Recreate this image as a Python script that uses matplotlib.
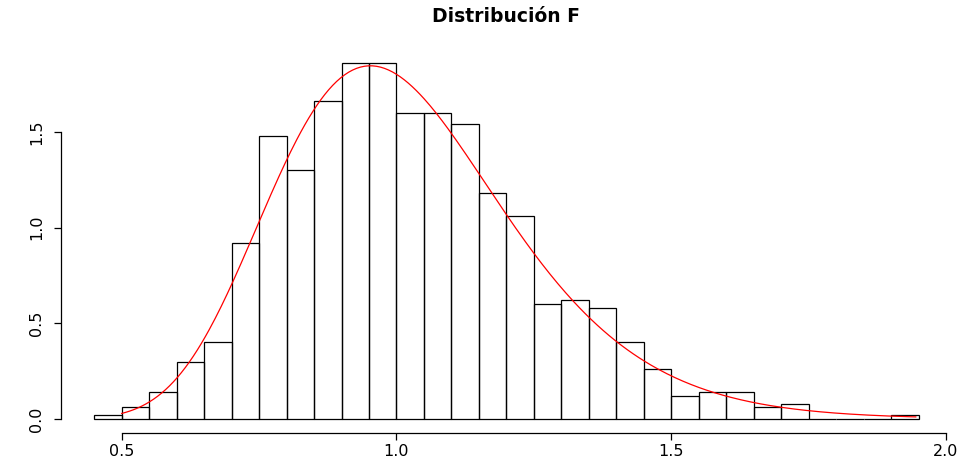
import math
import numpy as np
import matplotlib.pyplot as plt

plt.rcParams['font.family'] = ['DejaVu Sans']

# histogram (density), bins of width 0.05
bin_edges = [0.45, 0.50, 0.55, 0.60, 0.65, 0.70, 0.75, 0.80, 0.85, 0.90, 0.95,
             1.00, 1.05, 1.10, 1.15, 1.20, 1.25, 1.30, 1.35, 1.40, 1.45,
             1.50, 1.55, 1.60, 1.65, 1.70, 1.75, 1.80, 1.85, 1.90, 1.95]
density = [0.02, 0.06, 0.14, 0.30, 0.40, 0.92, 1.48, 1.30, 1.66, 1.86,
           1.86, 1.60, 1.60, 1.54, 1.18, 1.06, 0.60, 0.62, 0.58, 0.40,
           0.26, 0.12, 0.14, 0.14, 0.06, 0.08, 0.00, 0.00, 0.00, 0.02]

# theoretical F curve
df1, df2 = 82, 82
curve_from, curve_to = 0.50, 1.945

x_ticks = [0.5, 1.0, 1.5, 2.0]
y_ticks = [0.0, 0.5, 1.0, 1.5]


def f_pdf(x, d1, d2):
    lb = math.lgamma(d1 / 2) + math.lgamma(d2 / 2) - math.lgamma((d1 + d2) / 2)
    logp = (d1 / 2) * np.log(d1 / d2) + (d1 / 2 - 1) * np.log(x) \
        - ((d1 + d2) / 2) * np.log(1 + d1 * x / d2) - lb
    return np.exp(logp)


fig = plt.figure(figsize=(9.62, 4.65), dpi=100)
ax = fig.add_axes([0.0637, 0.0684, 0.9254, 0.8268])

left = np.array(bin_edges[:-1])
widths = np.diff(bin_edges)
ax.bar(left, density, width=widths, align='edge', facecolor='none',
       edgecolor='black', linewidth=0.9)

xs = np.linspace(curve_from, curve_to, 400)
ax.plot(xs, f_pdf(xs, df1, df2), color='red', linewidth=0.9)

span = bin_edges[-1] - bin_edges[0]
ax.set_xlim(bin_edges[0] - 0.04 * span, bin_edges[-1] + 0.04 * span)
ymax = max(density)
ax.set_ylim(-0.04 * ymax, ymax * 1.04)

ax.spines['top'].set_visible(False)
ax.spines['right'].set_visible(False)
ax.spines['left'].set_bounds(y_ticks[0], y_ticks[-1])
ax.spines['bottom'].set_bounds(x_ticks[0], x_ticks[-1])
for s in ('left', 'bottom'):
    ax.spines[s].set_linewidth(0.9)

ax.set_xticks(x_ticks)
ax.set_xticklabels([f'{v:.1f}' for v in x_ticks])
ax.set_yticks(y_ticks)
ax.set_yticklabels([f'{v:.1f}' for v in y_ticks], rotation=90, va='center')
ax.tick_params(axis='both', direction='out', length=5.2, width=0.9,
               labelsize=11.5)
ax.tick_params(axis='x', pad=2.5)
ax.tick_params(axis='y', pad=7)

fig.suptitle('Distribución F', x=0.526, y=0.985, fontsize=13.5,
             fontweight='bold')

fig.savefig('out.png', dpi=100)
